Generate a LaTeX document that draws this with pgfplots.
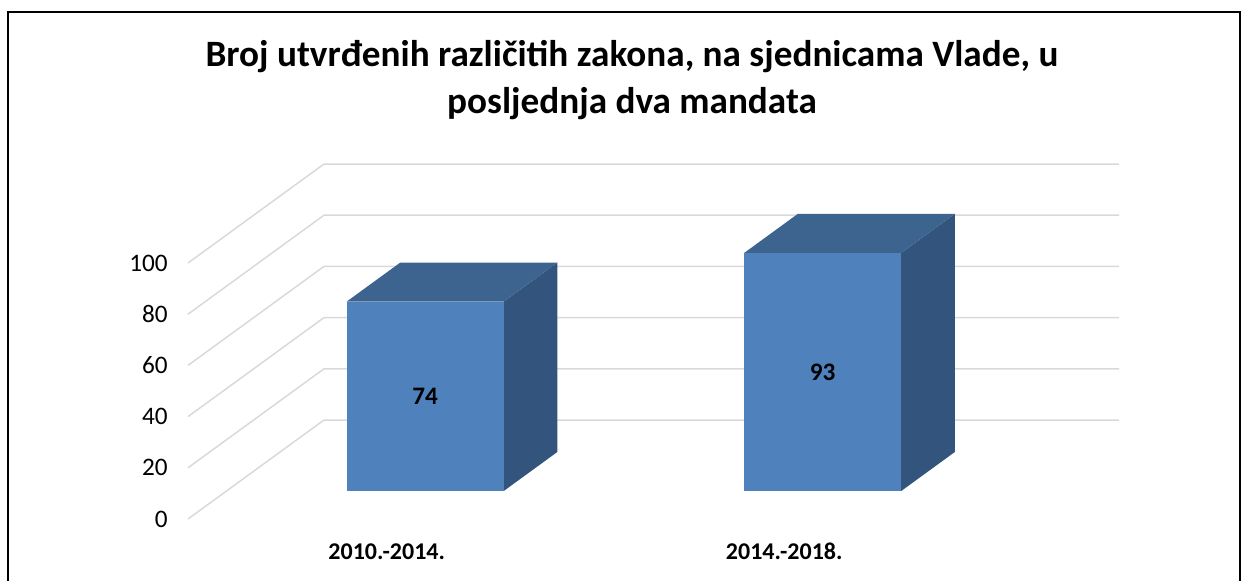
\documentclass[border=0pt]{standalone}
\usepackage{pgfplots}
\pgfplotsset{compat=1.18}
\usepackage{fontspec}
\setmainfont{Carlito}
\usetikzlibrary{calc}
\definecolor{barfront}{RGB}{79,129,189}
\definecolor{bartop}{RGB}{61,99,143}
\definecolor{barside}{RGB}{51,84,124}
\definecolor{gridc}{RGB}{217,217,217}
\begin{document}
\begin{tikzpicture}
\begin{axis}[
  x={(198.75pt,0pt)}, y={(68pt,49.5pt)}, z={(0pt,1.28pt)},
  xmin=-0.5,xmax=1.5,ymin=0,ymax=1,zmin=0,zmax=100,
  hide axis, clip=false,
]
\pgfplotsinvokeforeach{0,20,40,60,80,100}{
  \addplot3[gridc, line width=0.75pt, mark=none] coordinates {(-0.5,0,#1) (-0.5,1,#1) (1.5,1,#1)};
  \node[anchor=east, inner sep=0pt, font=\fontsize{12.6}{14}\selectfont] at (axis cs:-0.5,0,#1) [xshift=-10pt] {#1};
}
% bar 1: 2010.-2014. = 74
\addplot3[draw=none, fill=barside, mark=none] coordinates {(0.1975,0.283,0)(0.1975,0.677,0)(0.1975,0.677,74)(0.1975,0.283,74)} -- cycle;
\addplot3[draw=none, fill=bartop, mark=none] coordinates {(-0.1975,0.283,74)(0.1975,0.283,74)(0.1975,0.677,74)(-0.1975,0.677,74)} -- cycle;
\addplot3[draw=none, fill=barfront, mark=none] coordinates {(-0.1975,0.283,0)(0.1975,0.283,0)(0.1975,0.283,74)(-0.1975,0.283,74)} -- cycle;
% bar 2: 2014.-2018. = 93
\addplot3[draw=none, fill=barside, mark=none] coordinates {(1.1975,0.283,0)(1.1975,0.677,0)(1.1975,0.677,93)(1.1975,0.283,93)} -- cycle;
\addplot3[draw=none, fill=bartop, mark=none] coordinates {(0.8025,0.283,93)(1.1975,0.283,93)(1.1975,0.677,93)(0.8025,0.677,93)} -- cycle;
\addplot3[draw=none, fill=barfront, mark=none] coordinates {(0.8025,0.283,0)(1.1975,0.283,0)(1.1975,0.283,93)(0.8025,0.283,93)} -- cycle;
\node[font=\fontsize{12.6}{14}\selectfont\bfseries] at (axis cs:0,0.283,37) {74};
\node[font=\fontsize{12.6}{14}\selectfont\bfseries] at (axis cs:1,0.283,46.5) {93};
\node[anchor=base, inner sep=0pt, font=\fontsize{12}{14}\selectfont\bfseries] at (axis cs:0,0,0) [yshift=-20pt] {2010.-2014.};
\node[anchor=base, inner sep=0pt, font=\fontsize{12}{14}\selectfont\bfseries] at (axis cs:1,0,0) [yshift=-20pt] {2014.-2018.};
\coordinate (O) at (axis cs:-0.5,0,0);
\end{axis}
\pgfresetboundingbox
\begin{scope}[shift={($(O)+(-94pt,259.5pt)$)}, x=0.5pt, y=-0.5pt]
  \useasboundingbox (0,0) rectangle (1244,580);
  \draw[line width=1.2pt] (8,620) -- (8,12) -- (1240,12) -- (1240,620);
  \node[anchor=base, inner sep=0pt, font=\fontsize{18.6}{22}\selectfont\bfseries] at (632,66) {Broj utvrđenih različitih zakona, na sjednicama Vlade, u};
  \node[anchor=base, inner sep=0pt, font=\fontsize{18.6}{22}\selectfont\bfseries] at (632,113) {posljednja dva mandata};
\end{scope}
\end{tikzpicture}
\end{document}
